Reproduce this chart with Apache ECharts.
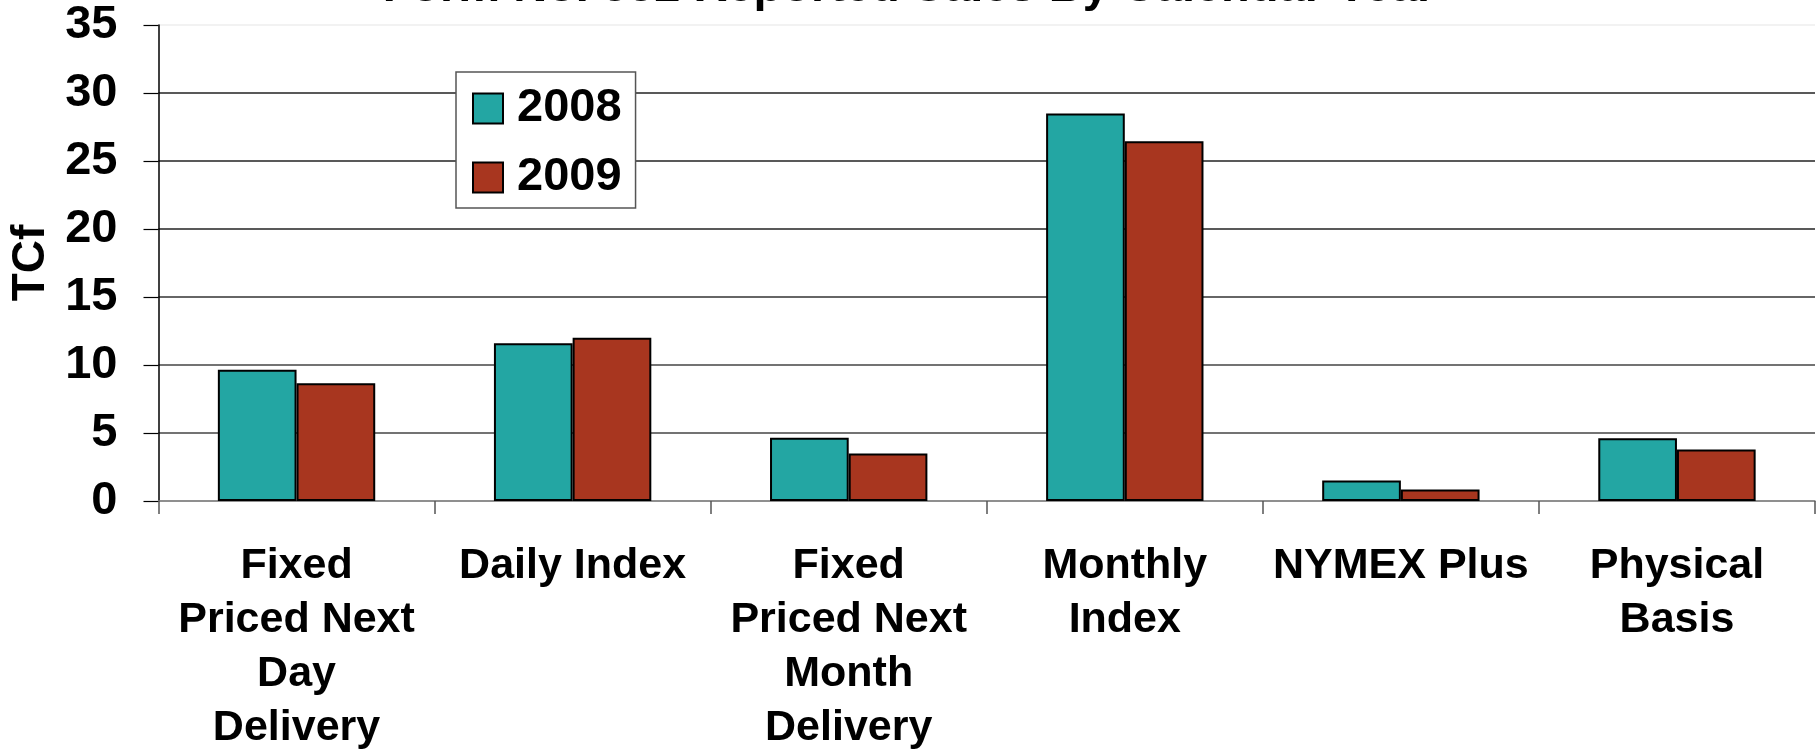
<!DOCTYPE html>
<html>
<head>
<meta charset="utf-8">
<script src="https://cdn.jsdelivr.net/npm/echarts@6/dist/echarts.min.js"></script>
<style>
html,body{margin:0;padding:0;background:#fff;}
#chart{width:1818px;height:749px;}
</style>
</head>
<body>
<div id="chart"></div>
<script>
const titleText = 'Form No. 552 Reported Sales By Calendar Year';
const categories = ['Fixed Priced Next Day Delivery', 'Daily Index', 'Fixed Priced Next Month Delivery', 'Monthly Index', 'NYMEX Plus', 'Physical Basis'];
const tickLabels = ['Fixed\nPriced Next\nDay\nDelivery', 'Daily Index', 'Fixed\nPriced Next\nMonth\nDelivery', 'Monthly\nIndex', 'NYMEX Plus', 'Physical\nBasis'];
const seriesNames = ['2008', '2009'];
const values2008 = [9.65, 11.6, 4.65, 28.5, 1.5, 4.62];
const values2009 = [8.65, 12.0, 3.5, 26.46, 0.84, 3.79];
const yTicks = [0, 5, 10, 15, 20, 25, 30, 35];

const FONT = '"Liberation Sans", Arial, sans-serif';
const chart = echarts.init(document.getElementById('chart'));
chart.setOption({
  animation: false,
  backgroundColor: '#fff',
  textStyle: { fontFamily: FONT },
  title: {
    text: titleText,
    left: 'center',
    top: -40,
    textStyle: { fontSize: 47, fontWeight: 'bold', color: '#000', fontFamily: FONT }
  },
  legend: {
    orient: 'vertical',
    left: 456,
    top: 72,
    data: seriesNames,
    backgroundColor: '#fff',
    borderColor: '#555',
    borderWidth: 1.5,
    padding: [13, 14, 7, 16],
    itemWidth: 30,
    itemHeight: 30,
    itemGap: 22,
    icon: 'rect',
    selectedMode: false,
    textStyle: { fontSize: 47, fontWeight: 'bold', color: '#000', lineHeight: 46, padding: [0, 0, 0, 9], fontFamily: FONT }
  },
  grid: { left: 158.5, right: 3, top: 25, bottom: 248, containLabel: false, outerBoundsMode: 'none' },
  xAxis: {
    type: 'category',
    data: categories,
    axisLine: { show: true, lineStyle: { color: '#888', width: 1.5 } },
    axisTick: { show: true, length: 13, lineStyle: { color: '#555', width: 1.5 } },
    axisLabel: {
      interval: 0,
      margin: 38,
      fontSize: 43,
      fontWeight: 'bold',
      color: '#000',
      lineHeight: 54,
      fontFamily: FONT,
      formatter: function (v, i) { return tickLabels[i]; }
    },
    splitLine: { show: false }
  },
  yAxis: {
    type: 'value',
    min: yTicks[0],
    max: yTicks[yTicks.length - 1],
    interval: 5,
    name: 'TCf',
    nameLocation: 'middle',
    nameGap: 97,
    nameRotate: 90,
    nameTextStyle: { fontSize: 46, fontWeight: 'bold', color: '#000', fontFamily: FONT },
    axisLine: { show: true, lineStyle: { color: '#000', width: 1.5 } },
    axisTick: { show: true, length: 15, lineStyle: { color: '#000', width: 1.2 } },
    axisLabel: { margin: 41, fontSize: 47, fontWeight: 'bold', color: '#000', fontFamily: FONT },
    splitLine: { show: true, lineStyle: { color: ['#888', '#444', '#444', '#333', '#222', '#222', '#222', '#eee'], width: 1.5 } }
  },
  series: [
    {
      name: seriesNames[0],
      type: 'bar',
      data: values2008,
      barGap: '0%',
      barCategoryGap: '43%',
      itemStyle: { color: '#23A6A3', borderColor: '#000', borderWidth: 2 }
    },
    {
      name: seriesNames[1],
      type: 'bar',
      data: values2009,
      barGap: '0%',
      barCategoryGap: '43%',
      itemStyle: { color: '#A8361F', borderColor: '#000', borderWidth: 2 }
    }
  ]
});
</script>
</body>
</html>
